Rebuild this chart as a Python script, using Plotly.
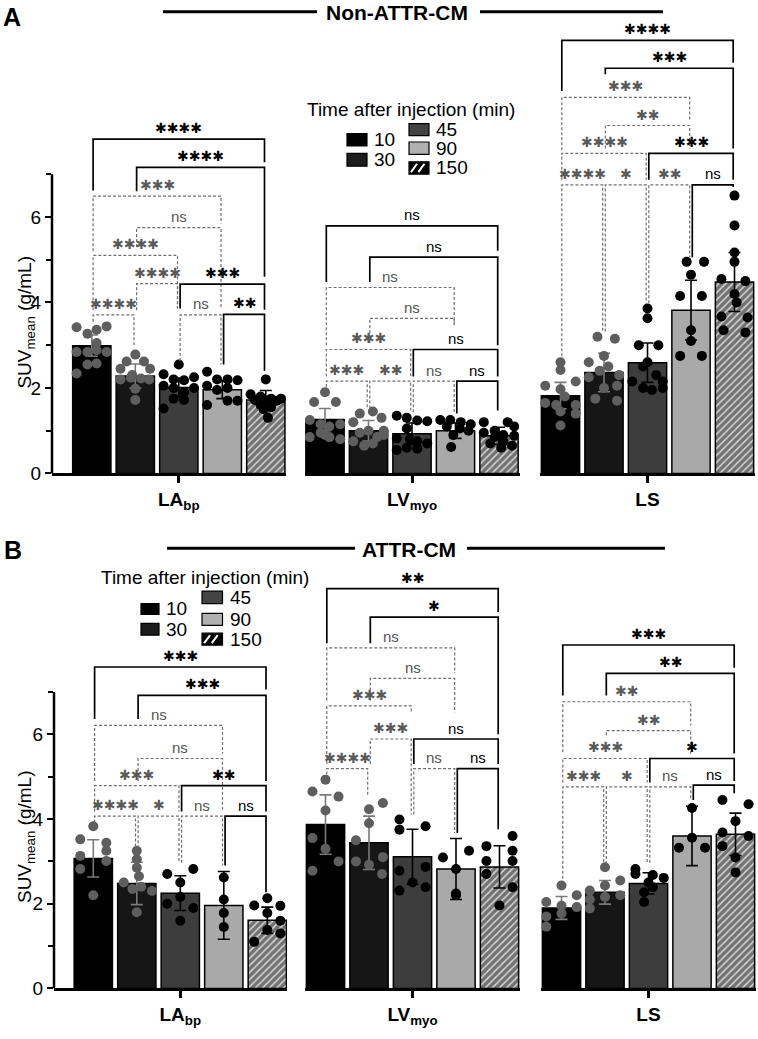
import plotly.graph_objects as go

W, H = 758, 1039

TIMES = ["10", "30", "45", "90", "150"]
GROUP_LABELS = ["<b>LA<sub>bp</sub></b>", "<b>LV<sub>myo</sub></b>", "<b>LS</b>"]
PANEL_TITLES = ["Non-ATTR-CM", "ATTR-CM"]
PANEL_LETTERS = ["A", "B"]
Y_MAJOR = [0, 2, 4, 6]
Y_MINOR = [1, 3, 5, 7]

# ---------------- Panel A : Non-ATTR-CM ----------------
A_LA_mean = [2.99, 2.28, 2.01, 1.96, 1.72]
A_LA_sd = [0.25, 0.28, 0.22, 0.21, 0.22]
A_LV_mean = [1.26, 1.00, 0.93, 1.00, 0.88]
A_LV_sd = [0.26, 0.24, 0.25, 0.18, 0.20]
A_LS_mean = [1.82, 2.36, 2.59, 3.82, 4.48]
A_LS_sd = [0.31, 0.45, 0.46, 0.70, 0.69]

A_LA_pts = [
    [3.42, 3.27, 3.36, 3.44, 3.05, 2.84, 2.84, 2.88, 2.84, 2.55, 2.57, 2.34],
    [2.78, 2.62, 2.62, 2.45, 2.45, 2.30, 2.24, 2.22, 2.20, 2.20, 1.98, 1.72],
    [2.55, 2.32, 2.20, 2.18, 2.25, 2.05, 2.00, 2.00, 1.90, 1.75, 1.52, 1.72],
    [2.38, 2.20, 2.20, 2.18, 2.05, 2.00, 1.95, 1.70, 1.70, 1.60],
    [2.20, 1.85, 1.80, 1.75, 1.75, 1.72, 1.70, 1.70, 1.60, 1.55, 1.50, 1.30],
]
A_LA_jit = [
    [-0.35, -0.10, 0.11, 0.34, 0.11, -0.35, -0.10, 0.11, 0.34, -0.10, 0.11, -0.35],
    [0.0, -0.2, 0.2, -0.34, 0.34, -0.07, -0.1, 0.13, -0.34, 0.32, 0.0, 0.0],
    [0.0, -0.35, -0.12, 0.12, 0.35, -0.35, -0.12, 0.35, 0.12, -0.12, -0.35, 0.12],
    [-0.35, -0.12, 0.12, 0.35, -0.35, 0.12, -0.12, 0.12, 0.35, -0.35],
    [0.0, -0.35, -0.12, 0.12, 0.35, -0.25, 0.25, 0.0, -0.12, 0.12, -0.05, 0.05],
]
A_LV_pts = [
    [1.90, 1.67, 1.67, 1.25, 1.15, 1.15, 1.10, 0.95, 0.85, 0.85, 0.80, 0.90],
    [1.45, 1.40, 1.30, 1.20, 1.00, 1.00, 0.95, 0.85, 0.75, 0.70, 0.65, 0.90],
    [1.35, 1.30, 1.24, 1.22, 1.05, 0.82, 0.80, 0.75, 0.70, 0.55, 0.58, 0.60],
    [1.25, 1.25, 1.20, 1.15, 1.10, 1.05, 1.00, 0.90, 0.62],
    [1.20, 1.20, 1.10, 1.00, 0.95, 0.90, 0.88, 0.85, 0.75, 0.70, 0.60, 0.65],
]
A_LV_jit = [
    [0.0, -0.25, 0.25, -0.35, -0.1, 0.35, 0.1, -0.1, 0.1, -0.35, 0.35, 0.0],
    [0.1, -0.2, 0.3, -0.35, 0.0, 0.35, -0.2, 0.2, -0.35, 0.1, -0.1, 0.35],
    [-0.35, -0.12, 0.12, 0.35, -0.12, -0.35, -0.05, 0.12, 0.35, -0.35, 0.12, -0.12],
    [-0.35, -0.12, 0.12, 0.35, -0.2, 0.1, 0.3, -0.05, -0.1],
    [-0.35, 0.2, 0.35, -0.1, -0.35, 0.1, 0.35, -0.1, 0.1, -0.2, 0.05, 0.3],
]
A_LS_pts = [
    [2.60, 2.42, 2.15, 2.05, 1.97, 1.80, 1.65, 1.60, 1.60, 1.45, 1.40, 1.12],
    [3.20, 3.15, 2.75, 2.60, 2.50, 2.40, 2.30, 2.25, 2.05, 2.00, 1.75, 1.70],
    [3.86, 3.63, 3.00, 3.00, 2.60, 2.50, 2.15, 2.15, 2.00, 2.00, 1.95, 2.30],
    [4.95, 4.95, 4.65, 4.15, 4.15, 3.35, 3.10, 2.75, 2.75],
    [6.50, 5.80, 5.17, 4.95, 4.55, 4.50, 4.20, 3.67, 3.65, 3.35, 3.30, 4.00],
]
A_LS_jit = [
    [0.0, 0.0, 0.35, -0.35, 0.0, 0.1, -0.35, 0.35, -0.1, 0.0, 0.35, 0.0],
    [-0.15, 0.25, 0.0, -0.35, 0.1, -0.1, 0.35, -0.35, 0.3, 0.0, -0.2, 0.3],
    [0.0, 0.0, -0.2, 0.25, 0.0, -0.1, -0.35, 0.35, 0.35, -0.1, 0.1, 0.2],
    [-0.1, 0.3, 0.0, -0.25, 0.25, 0.0, 0.0, -0.25, 0.25],
    [0.0, 0.0, 0.0, 0.0, -0.3, 0.25, 0.0, -0.3, 0.3, -0.25, 0.25, 0.05],
]

# ---------------- Panel B : ATTR-CM ----------------
B_LA_mean = [3.07, 2.48, 2.25, 1.96, 1.61]
B_LA_sd = [0.44, 0.50, 0.41, 0.80, 0.31]
B_LV_mean = [3.87, 3.44, 3.11, 2.82, 2.87]
B_LV_sd = [0.70, 0.63, 0.65, 0.72, 0.50]
B_LS_mean = [1.90, 2.27, 2.48, 3.60, 3.64]
B_LS_sd = [0.27, 0.28, 0.25, 0.70, 0.50]

B_LA_pts = [
    [3.83, 3.52, 3.44, 3.25, 3.13, 3.01, 2.82, 2.20],
    [3.25, 3.05, 2.85, 2.65, 2.50, 2.40, 2.35, 2.30, 1.80],
    [2.70, 2.82, 2.50, 2.00, 2.16, 1.90, 1.60],
    [2.62, 2.10, 1.78, 1.45],
    [2.13, 1.96, 1.95, 1.78, 1.60, 1.38, 1.30, 1.10],
]
B_LA_jit = [
    [0.0, -0.3, 0.3, 0.3, -0.3, 0.3, -0.3, 0.0],
    [0.0, 0.0, 0.0, 0.05, -0.3, 0.1, -0.1, 0.35, 0.0],
    [-0.3, 0.3, 0.0, -0.3, 0.0, 0.3, 0.0],
    [0.0, 0.0, 0.0, 0.0],
    [0.0, -0.3, 0.3, 0.0, 0.3, 0.0, 0.3, -0.3],
]
B_LV_pts = [
    [4.93, 4.65, 4.53, 4.20, 3.55, 3.30, 3.00, 2.78],
    [4.38, 4.23, 3.90, 3.50, 3.10, 3.00, 2.92, 2.70],
    [3.99, 3.83, 3.75, 2.87, 2.78, 2.50, 2.39, 2.31],
    [3.25, 3.09, 2.82, 2.24, 2.20],
    [3.60, 3.36, 3.25, 3.01, 3.01, 2.70, 2.39, 1.96],
]
B_LV_jit = [
    [0.0, -0.3, 0.3, 0.0, -0.3, 0.0, 0.3, -0.3],
    [0.32, 0.0, 0.0, -0.3, 0.32, -0.3, 0.0, 0.3],
    [-0.3, 0.3, -0.3, 0.3, -0.3, 0.0, 0.3, -0.3],
    [0.3, -0.3, 0.0, 0.0, 0.0],
    [0.3, -0.3, 0.3, -0.3, 0.3, -0.3, 0.3, 0.0],
]
B_LS_pts = [
    [2.43, 2.20, 2.04, 1.95, 1.92, 1.77, 1.70, 1.46],
    [2.86, 2.55, 2.43, 2.31, 2.20, 2.16, 2.10, 1.89],
    [2.82, 2.70, 2.68, 2.61, 2.50, 2.39, 2.27, 2.04],
    [4.26, 3.56, 3.32, 3.32],
    [4.45, 4.35, 3.95, 3.68, 3.60, 3.36, 3.09, 2.74],
]
B_LS_jit = [
    [0.0, 0.35, -0.35, 0.0, 0.35, 0.0, -0.35, -0.35],
    [0.0, 0.35, 0.0, -0.35, 0.35, 0.0, -0.35, -0.35],
    [-0.3, -0.3, 0.1, 0.35, 0.0, 0.1, -0.1, -0.1],
    [0.0, 0.0, -0.3, 0.3],
    [-0.3, 0.3, 0.0, -0.3, 0.3, -0.3, 0.0, 0.0],
]

# significance brackets: (bar a, bar b, level, left-leg end, right-leg end, solid?, label)
A_LA_br = [
    (0, 4, 7.82, 6.62, 7.28, True, "****"),
    (1, 4, 7.16, 6.60, 4.60, True, "****"),
    (0, 3, 6.49, 5.20, 5.85, False, "***"),
    (1, 3, 5.75, 5.30, 3.85, False, "ns"),
    (0, 2, 5.10, 3.82, 3.86, False, "****"),
    (1, 2, 4.44, 3.82, 3.86, False, "****"),
    (2, 4, 4.43, 3.86, 3.83, True, "***"),
    (0, 1, 3.71, 3.55, 2.97, False, "****"),
    (2, 3, 3.71, 2.63, 2.55, False, "ns"),
    (3, 4, 3.72, 2.55, 2.40, True, "**"),
]
A_LV_br = [
    (0, 4, 5.79, 4.48, 5.21, True, "ns"),
    (1, 4, 5.06, 4.48, 3.00, True, "ns"),
    (0, 3, 4.35, 3.00, 3.48, False, "ns"),
    (1, 3, 3.63, 3.05, 3.48, False, "ns"),
    (0, 2, 2.90, 2.27, 2.27, False, "***"),
    (2, 4, 2.90, 2.27, 2.27, True, "ns"),
    (0, 1, 2.16, 2.02, 1.52, False, "***"),
    (1, 2, 2.16, 1.52, 1.47, False, "**"),
    (2, 3, 2.16, 1.43, 1.40, False, "ns"),
    (3, 4, 2.16, 1.40, 1.47, True, "ns"),
]
A_LS_br = [
    (0, 4, 10.13, 8.95, 9.61, True, "****"),
    (1, 4, 9.48, 9.34, 7.60, True, "***"),
    (0, 3, 8.80, 7.56, 8.26, False, "***"),
    (1, 3, 8.14, 7.60, 7.60, False, "**"),
    (0, 2, 7.49, 6.87, 6.87, False, "****"),
    (2, 4, 7.49, 6.87, 6.87, True, "***"),
    (0, 1, 6.75, 2.74, 3.32, False, "****"),
    (1, 2, 6.75, 3.32, 3.98, False, "*"),
    (2, 3, 6.75, 3.98, 5.06, False, "**"),
    (3, 4, 6.75, 5.06, 6.70, True, "ns"),
]
B_LA_br = [
    (0, 4, 7.59, 6.36, 7.06, True, "***"),
    (1, 4, 6.92, 6.36, 4.90, True, "***"),
    (0, 3, 6.21, 4.90, 5.55, False, "ns"),
    (1, 3, 5.43, 4.90, 4.18, False, "ns"),
    (0, 2, 4.79, 4.18, 4.18, False, "***"),
    (2, 4, 4.79, 4.18, 4.18, True, "**"),
    (0, 1, 4.07, 3.91, 3.31, False, "****"),
    (1, 2, 4.07, 3.31, 2.97, False, "*"),
    (2, 3, 4.07, 2.97, 2.90, False, "ns"),
    (3, 4, 4.07, 2.90, 2.27, True, "ns"),
]
B_LV_br = [
    (0, 4, 9.44, 8.15, 8.89, True, "**"),
    (1, 4, 8.77, 8.15, 6.00, True, "*"),
    (0, 3, 8.04, 6.80, 7.45, False, "ns"),
    (1, 3, 7.32, 6.80, 6.52, False, "ns"),
    (0, 2, 6.67, 5.30, 6.52, False, "***"),
    (1, 2, 5.89, 5.30, 4.11, False, "***"),
    (2, 4, 5.89, 5.30, 5.30, True, "ns"),
    (0, 1, 5.19, 5.05, 4.57, False, "****"),
    (2, 3, 5.19, 4.11, 3.67, False, "ns"),
    (3, 4, 5.19, 3.67, 3.76, True, "ns"),
]
B_LS_br = [
    (0, 4, 8.11, 6.92, 7.57, True, "***"),
    (1, 4, 7.44, 6.92, 5.55, True, "**"),
    (0, 3, 6.77, 5.58, 6.21, False, "**"),
    (1, 3, 6.09, 5.98, 5.55, False, "**"),
    (0, 2, 5.43, 4.86, 4.86, False, "***"),
    (2, 4, 5.43, 4.86, 4.90, True, "*"),
    (0, 1, 4.76, 2.59, 2.94, False, "***"),
    (1, 2, 4.76, 2.94, 2.97, False, "*"),
    (2, 3, 4.76, 2.97, 4.45, False, "ns"),
    (3, 4, 4.80, 4.45, 4.61, True, "ns"),
]

PANELS = [
    dict(means=[A_LA_mean, A_LV_mean, A_LS_mean], sds=[A_LA_sd, A_LV_sd, A_LS_sd],
         pts=[A_LA_pts, A_LV_pts, A_LS_pts], jit=[A_LA_jit, A_LV_jit, A_LS_jit],
         br=[A_LA_br, A_LV_br, A_LS_br]),
    dict(means=[B_LA_mean, B_LV_mean, B_LS_mean], sds=[B_LA_sd, B_LV_sd, B_LS_sd],
         pts=[B_LA_pts, B_LV_pts, B_LS_pts], jit=[B_LA_jit, B_LV_jit, B_LS_jit],
         br=[B_LA_br, B_LV_br, B_LS_br]),
]

# ---------------- layout geometry (pixels) ----------------
ZERO_PX = [478.5, 999.0]
UNIT_Y = [43.2, 42.8]
Y_TOP = [10.6, 10.2]
X_CENTER0 = [[91.8, 325.0, 560.5], [93.3, 325.5, 561.5]]
X_DOM = [[(52, 286), (305, 520), (540, 755)], [(54, 287), (305, 520), (541, 756)]]
UNIT_X = 43.5

BAR_COLORS = ["#000000", "#161616", "#3d3d3d", "#a9a9a9", "#9a9a9a"]
PT_COLORS = ["#5e5e5e", "#5e5e5e", "#000000", "#000000", "#000000"]
ERR_COLORS = ["#7a7a7a", "#7a7a7a", "#000000", "#000000", "#000000"]
FONT = "Liberation Sans, Arial, sans-serif"
STAR_FONT = "DejaVu Sans"


def fx(p):
    return p / W


def fy(p):
    return 1 - p / H


fig = go.Figure()
shapes = []
annotations = []
layout = {}

for p, panel in enumerate(PANELS):
    for g in range(3):
        k = p * 3 + g + 1
        xa = "x" if k == 1 else f"x{k}"
        ya = "y" if k == 1 else f"y{k}"
        means, sds = panel["means"][g], panel["sds"][g]
        pts, jit = panel["pts"][g], panel["jit"][g]
        for i in range(5):
            marker = dict(color=BAR_COLORS[i], line=dict(color="black", width=1.5))
            if i == 4:
                marker["pattern"] = dict(shape="/", fgcolor="#101010", bgcolor="#d4d4d4",
                                         size=5, solidity=0.7)
            fig.add_trace(go.Bar(
                x=[i], y=[means[i]], width=0.88, marker=marker,
                error_y=dict(type="data", array=[sds[i]], visible=True,
                             color=ERR_COLORS[i], thickness=1.6, width=6),
                xaxis=xa, yaxis=ya, hoverinfo="skip", name=TIMES[i]))
        for i in range(5):
            fig.add_trace(go.Scatter(
                x=[i + o for o in jit[i]], y=pts[i], mode="markers",
                marker=dict(size=10, color=PT_COLORS[i], line=dict(width=0)),
                xaxis=xa, yaxis=ya, hoverinfo="skip"))

        d0, d1 = X_DOM[p][g]
        c0 = X_CENTER0[p][g]
        xr = [(d0 - c0) / UNIT_X, (d1 - c0) / UNIT_X]
        top_px = ZERO_PX[p] - Y_TOP[p] * UNIT_Y[p]
        xkey = "xaxis" if k == 1 else f"xaxis{k}"
        ykey = "yaxis" if k == 1 else f"yaxis{k}"
        layout[xkey] = dict(domain=[fx(d0), fx(d1)], range=xr, anchor=ya,
                            showline=True, linecolor="black", linewidth=2.5,
                            showgrid=False, zeroline=False, ticks="outside",
                            tickvals=[2], ticktext=[GROUP_LABELS[g]], ticklen=7,
                            tickwidth=2.5, tickcolor="black",
                            tickfont=dict(family=FONT, size=19, color="black"),
                            fixedrange=True)
        ydict = dict(domain=[fy(ZERO_PX[p]), fy(top_px)], range=[0, Y_TOP[p]],
                     anchor=xa, showgrid=False, zeroline=False, showline=False,
                     fixedrange=True)
        if g == 0:
            ydict.update(ticks="outside", tickvals=Y_MAJOR,
                         ticktext=[str(v) for v in Y_MAJOR],
                         ticklen=6, tickwidth=2, tickcolor="black",
                         tickfont=dict(family=FONT, size=19, color="black"),
                         minor=dict(tickvals=Y_MINOR, ticks="outside", ticklen=5,
                                    tickwidth=2, tickcolor="black", showgrid=False))
            shapes.append(dict(type="line", xref=f"{xa} domain", yref=ya,
                               x0=0, x1=0, y0=0, y1=7,
                               line=dict(color="black", width=2.5)))
        else:
            ydict.update(visible=False)
        layout[ykey] = ydict

        for (a, b, lvl, ea, eb, solid, lab) in panel["br"][g]:
            xa_ = a + 0.03
            xb_ = b - 0.03
            path = f"M {xa_},{ea} L {xa_},{lvl} L {xb_},{lvl} L {xb_},{eb}"
            shapes.append(dict(
                type="path", path=path, xref=xa, yref=ya,
                line=dict(color="black" if solid else "#707070",
                          width=1.7 if solid else 1.2,
                          dash="solid" if solid else "3px,2px")))
            if lab == "ns":
                font = dict(family=FONT, size=15, color="black" if solid else "#555555")
                txt = "ns"
            else:
                font = dict(family=STAR_FONT, size=14, color="black" if solid else "#5a5a5a")
                txt = "\u2731" * len(lab)
            annotations.append(dict(x=(a + b) / 2, y=lvl, xref=xa, yref=ya, text=txt,
                                    showarrow=False, font=font, yshift=11,
                                    xanchor="center", yanchor="middle"))

# y-axis titles
for cy in [326, 846]:
    annotations.append(dict(x=fx(26), y=fy(cy), xref="paper", yref="paper",
                            text="SUV<sub>mean</sub> (g/mL)", textangle=-90,
                            showarrow=False, xanchor="center", yanchor="middle",
                            font=dict(family=FONT, size=19, color="black")))

# panel titles and letters
TITLE_GEOM = [
    dict(letter=(12, 17), text=(397, 13), l=(163, 317), r=(480, 663), ly=12),
    dict(letter=(13, 556), text=(409, 555), l=(167, 355), r=(467, 665), ly=554),
]
for p, tg in enumerate(TITLE_GEOM):
    annotations.append(dict(x=fx(tg["letter"][0]), y=fy(tg["letter"][1]), xref="paper",
                            yref="paper", text=f"<b>{PANEL_LETTERS[p]}</b>",
                            showarrow=False, xanchor="center", yanchor="middle",
                            font=dict(family=FONT, size=25, color="black")))
    annotations.append(dict(x=fx(tg["text"][0]), y=fy(tg["text"][1]), xref="paper",
                            yref="paper", text=f"<b>{PANEL_TITLES[p]}</b>",
                            showarrow=False, xanchor="center", yanchor="middle",
                            font=dict(family=FONT, size=21, color="black")))
    for (x0, x1) in [tg["l"], tg["r"]]:
        shapes.append(dict(type="line", xref="paper", yref="paper",
                           x0=fx(x0), x1=fx(x1), y0=fy(tg["ly"]), y1=fy(tg["ly"]),
                           line=dict(color="black", width=3)))

# legends (manually placed, two columns)
LEG_GEOM = [
    dict(title=(411, 111), col=[(347, 367), (409, 429)],
         rows=[[(135, 147.5), (155, 168)], [(125, 137), (143.5, 156), (163.5, 176)]]),
    dict(title=(205, 584), col=[(141, 159), (202, 222.5)],
         rows=[[(610, 621), (630, 642)], [(597.5, 610), (620, 632), (640, 652)]]),
]
LEG_FILL = ["#000000", "#1c1c1c", "#444444", "#b0b0b0", "#000000"]
for lg in LEG_GEOM:
    annotations.append(dict(x=fx(lg["title"][0]), y=fy(lg["title"][1]), xref="paper",
                            yref="paper", text="Time after injection (min)",
                            showarrow=False, xanchor="center", yanchor="middle",
                            font=dict(family=FONT, size=19, color="black")))
    idx = 0
    for c, rows in enumerate(lg["rows"]):
        bx0, bx1 = lg["col"][c]
        for (by0, by1) in rows:
            shapes.append(dict(type="rect", xref="paper", yref="paper",
                               x0=fx(bx0), x1=fx(bx1), y0=fy(by1), y1=fy(by0),
                               fillcolor=LEG_FILL[idx], line=dict(color="black", width=1.2)))
            if idx == 4:
                for t in [0.25, 0.62]:
                    sx = bx0 + t * (bx1 - bx0)
                    shapes.append(dict(type="line", xref="paper", yref="paper",
                                       x0=fx(sx - 3), x1=fx(sx + 3),
                                       y0=fy(by1 - 2), y1=fy(by0 + 2),
                                       line=dict(color="white", width=2)))
            annotations.append(dict(x=fx(bx1 + 5), y=fy((by0 + by1) / 2), xref="paper",
                                    yref="paper", text=TIMES[idx], showarrow=False,
                                    xanchor="left", yanchor="middle",
                                    font=dict(family=FONT, size=19, color="black")))
            idx += 1

fig.update_layout(
    width=W, height=H, margin=dict(l=0, r=0, t=0, b=0),
    paper_bgcolor="white", plot_bgcolor="white", showlegend=False,
    barmode="overlay", shapes=shapes, annotations=annotations, **layout)

fig.write_html("out.html")
